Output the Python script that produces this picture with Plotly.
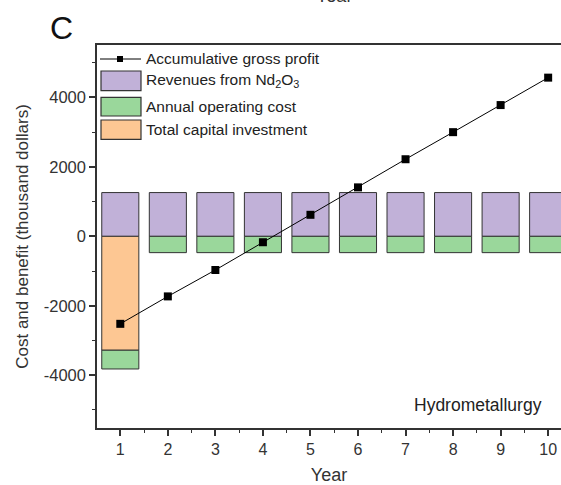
import plotly.graph_objects as go

# Economic assessment of the hydrometallurgy route over ten years
years = [1, 2, 3, 4, 5, 6, 7, 8, 9, 10]
revenue = [1260, 1260, 1260, 1260, 1260, 1260, 1260, 1260, 1260, 1260]
capital = [-3280, None, None, None, None, None, None, None, None, None]
operating = [-540, -470, -470, -470, -470, -470, -470, -470, -470, -470]
gross_profit = [-2520, -1730, -970, -170, 620, 1410, 2220, 3000, 3780, 4570]

y_tickvals = [-4000, -2000, 0, 2000, 4000]
y_ticktext = ["-4000", "-2000", "0", "2000", "4000"]

legend_labels = [
    "Accumulative gross profit",
    "Revenues from Nd<sub>2</sub>O<sub>3</sub>",
    "Annual operating cost",
    "Total capital investment",
]

PURPLE = "#C1B1D8"
GREEN = "#9AD79B"
ORANGE = "#FDC793"
EDGE = "#333333"
FONT = "Arial, Liberation Sans, sans-serif"

W, H = 561, 485
ML, MR, MT, MB = 97, 0, 45, 57
PW, PH = W - ML - MR, H - MT - MB


def px(x):
    return (x - ML) / PW


def py(y):
    return (H - MB - y) / PH


fig = go.Figure()

bar_style = dict(width=0.78, marker_line=dict(color=EDGE, width=1), showlegend=False)
fig.add_trace(go.Bar(x=years, y=revenue, marker_color=PURPLE, **bar_style))
fig.add_trace(go.Bar(x=years, y=capital, marker_color=ORANGE, **bar_style))
fig.add_trace(go.Bar(x=years, y=operating, marker_color=GREEN, **bar_style))

fig.add_trace(go.Scatter(
    x=years, y=gross_profit, mode="lines+markers",
    line=dict(color="black", width=1),
    marker=dict(symbol="square", size=8, color="black"),
    showlegend=False,
))

# Hand-built legend in the upper-left corner
shapes = []
annotations = []
shapes.append(dict(type="line", xref="paper", yref="paper",
                   x0=px(100), x1=px(141), y0=py(59), y1=py(59),
                   line=dict(color="black", width=1)))
shapes.append(dict(type="rect", xref="paper", yref="paper",
                   x0=px(117), x1=px(123), y0=py(62), y1=py(56),
                   fillcolor="black", line=dict(width=0)))
boxes = [(PURPLE, 71, 90.7), (GREEN, 97.3, 116), (ORANGE, 120, 139.3)]
for color, top, bottom in boxes:
    shapes.append(dict(type="rect", xref="paper", yref="paper",
                       x0=px(101), x1=px(141), y0=py(bottom), y1=py(top),
                       fillcolor=color, line=dict(color=EDGE, width=1.2)))
text_rows = [59, 80.5, 106.5, 129.5]
for label, yc in zip(legend_labels, text_rows):
    annotations.append(dict(text=label, xref="paper", yref="paper",
                            x=px(144), y=py(yc), xanchor="left", yanchor="middle",
                            showarrow=False, font=dict(size=15.5, color="#222", family=FONT)))

annotations.append(dict(text="Hydrometallurgy", xref="paper", yref="paper",
                        x=px(544), y=py(405), xanchor="right", yanchor="middle",
                        showarrow=False, font=dict(size=17.5, color="#222", family=FONT)))
annotations.append(dict(text="C", xref="paper", yref="paper",
                        x=px(61.5), y=py(27.5), xanchor="center", yanchor="middle",
                        showarrow=False, font=dict(size=32, color="#111", family=FONT)))
# Axis title of the panel above, mostly outside the page
annotations.append(dict(text="Year", xref="paper", yref="paper",
                        x=px(334), y=py(8.5), xanchor="center", yanchor="bottom",
                        showarrow=False, font=dict(size=18, color="#333", family=FONT)))

fig.update_layout(
    width=W, height=H,
    margin=dict(l=ML, r=MR, t=MT, b=MB, pad=0, autoexpand=False),
    paper_bgcolor="white", plot_bgcolor="white",
    barmode="relative",
    font=dict(family=FONT, size=15, color="#333"),
    shapes=shapes, annotations=annotations,
    xaxis=dict(
        range=[0.51, 10.27], tickmode="linear", tick0=1, dtick=1,
        ticks="outside", ticklen=6, tickwidth=1.5, tickcolor="#333",
        minor=dict(dtick=0.5, tick0=0.5, ticks="outside", ticklen=3, tickwidth=1.2, tickcolor="#333"),
        showline=True, linecolor="#333", linewidth=1.5, mirror=True,
        showgrid=False, zeroline=False, automargin=False,
        tickfont=dict(size=16, color="#333"),
        title=dict(text="Year", font=dict(size=18, color="#333"), standoff=22),
    ),
    yaxis=dict(
        range=[-5520, 5510], tickmode="array", tickvals=y_tickvals, ticktext=y_ticktext,
        ticks="outside", ticklen=6, tickwidth=1.5, tickcolor="#333",
        minor=dict(dtick=1000, tick0=1000, ticks="outside", ticklen=3, tickwidth=1.2, tickcolor="#333"),
        showline=True, linecolor="#333", linewidth=1.5, mirror=False,
        showgrid=False, zeroline=False, automargin=False,
        tickfont=dict(size=16.5, color="#333"),
        title=dict(text="Cost and benefit (thousand dollars)", font=dict(size=17, color="#333"), standoff=11),
    ),
)

fig.write_html("out.html")
